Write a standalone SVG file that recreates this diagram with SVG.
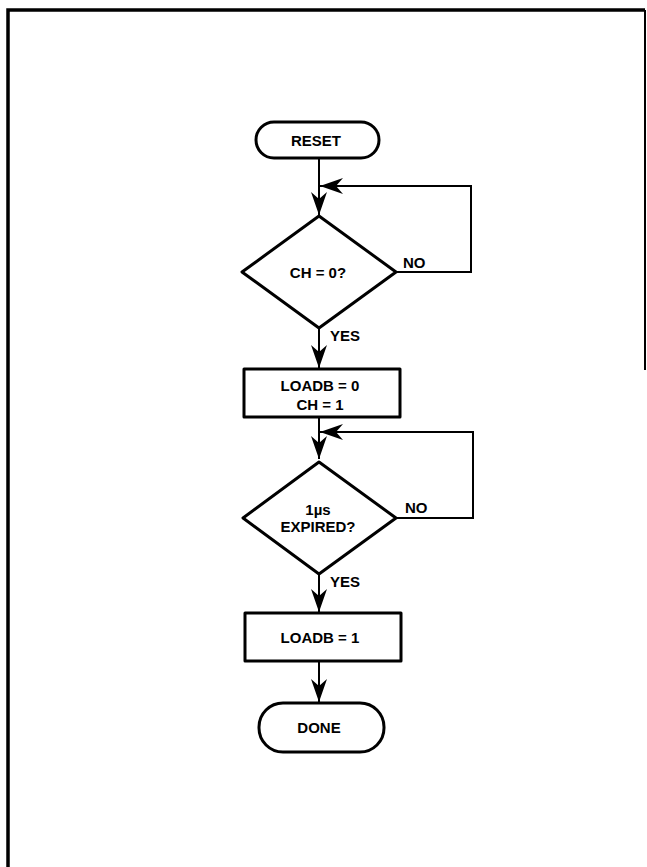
<svg xmlns="http://www.w3.org/2000/svg" width="647" height="867" viewBox="0 0 647 867">
<style>
.shape{fill:#fff;stroke:#000;stroke-width:3;stroke-linejoin:round}
.line{fill:none;stroke:#000;stroke-width:2}
.frame{fill:none;stroke:#000;stroke-width:3.5}
text{font-family:"Liberation Sans",Arial,sans-serif;font-weight:bold;font-size:15px;fill:#000;text-anchor:middle}
.lbl{text-anchor:start}
</style>
<defs>
<marker id="arr" markerUnits="userSpaceOnUse" markerWidth="26" markerHeight="20" viewBox="-24 -10 26 20" refX="0" refY="0" orient="auto">
<path d="M0,0 L-23,-8 L-16,0 L-23,8 Z" fill="#000"/>
</marker>
</defs>
<g id="frame">
<path class="frame" d="M8,867 L8,10 L645,10"/>
<path fill="none" stroke="#000" stroke-width="2" d="M645,10 L645,370"/>
</g>
<g id="connectors">
<path class="line" d="M319,158 L319,215" marker-end="url(#arr)"/>
<path class="line" d="M396,272 L471,272 L471,186 L320,186" marker-end="url(#arr)"/>
<path class="line" d="M319,328 L319,368" marker-end="url(#arr)"/>
<path class="line" d="M319,417 L319,459" marker-end="url(#arr)"/>
<path class="line" d="M396,518 L473,518 L473,432 L320,432" marker-end="url(#arr)"/>
<path class="line" d="M319,574 L319,612" marker-end="url(#arr)"/>
<path class="line" d="M319,661 L319,702" marker-end="url(#arr)"/>
</g>
<g id="reset">
<rect class="shape" x="256" y="122" width="123" height="36" rx="18"/>
<text x="316" y="146">RESET</text>
</g>
<g id="ch0">
<path class="shape" d="M319,216 L396,272 L319,328 L242,272 Z"/>
<text x="318" y="278">CH = 0?</text>
<text class="lbl" x="403" y="268">NO</text>
<text class="lbl" x="330" y="341">YES</text>
</g>
<g id="load0">
<rect class="shape" x="244" y="369" width="156" height="48"/>
<text x="320" y="391">LOADB = 0</text>
<text x="320" y="410">CH = 1</text>
</g>
<g id="expired">
<path class="shape" d="M319,462 L396,518 L319,574 L243,518 Z"/>
<text x="318" y="515">1µs</text>
<text x="318" y="532">EXPIRED?</text>
<text class="lbl" x="405" y="513">NO</text>
<text class="lbl" x="330" y="587">YES</text>
</g>
<g id="load1">
<rect class="shape" x="245" y="613" width="156" height="48"/>
<text x="320" y="643">LOADB = 1</text>
</g>
<g id="done">
<rect class="shape" x="259" y="703" width="125" height="49" rx="24"/>
<text x="319" y="733">DONE</text>
</g>
</svg>
